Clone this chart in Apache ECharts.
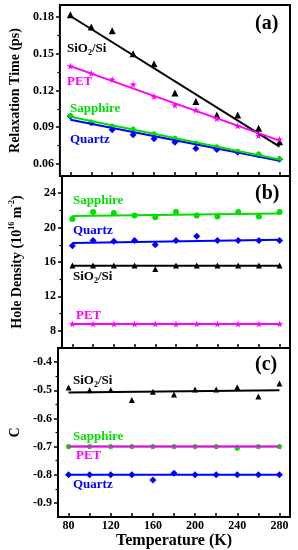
<!DOCTYPE html>
<html><head><meta charset="utf-8">
<script src="https://cdn.jsdelivr.net/npm/echarts@6/dist/echarts.min.js"></script>
<style>html,body{margin:0;padding:0;background:#fff}#c{width:298px;height:550px}</style>
</head><body><div id="c"></div>
<script>
const temps = [80, 100, 120, 140, 160, 180, 200, 220, 240, 260, 280];
const xTickValues = [80, 100, 120, 140, 160, 180, 200, 220, 240, 260, 280];
const xTickLabels = [80, 120, 160, 200, 240, 280];
const fitX = [80, 280];

// (a) relaxation time (ps)
const tauSiO2 = [0.182, 0.172, 0.169, 0.150, 0.142, 0.118, 0.111, 0.100, 0.100, 0.089, 0.078];
const tauPET = [0.140, 0.134, 0.129, 0.125, 0.115, 0.108, 0.104, 0.097, 0.091, 0.083, 0.080];
const tauSapphire = [0.0995, 0.094, 0.091, 0.0885, 0.0845, 0.081, 0.077, 0.074, 0.070, 0.068, 0.064];
const tauQuartz = [0.099, 0.0935, 0.0878, 0.0837, 0.0804, 0.0777, 0.0725, 0.0717, 0.0695, 0.0673, 0.0638];
const tauFitSiO2 = [0.181, 0.074];
const tauFitPET = [0.140, 0.079];
const tauFitSapphire = [0.0985, 0.0635];
const tauFitQuartz = [0.096, 0.0625];
const tauTicks = [0.06, 0.09, 0.12, 0.15, 0.18];
const tauMinor = [0.075, 0.105, 0.135, 0.165];

// (b) hole density (1e16 m^-2)
const nSapphire = [21.0, 21.8, 21.7, 21.4, 21.2, 21.8, 21.4, 21.3, 21.8, 21.3, 21.8];
const nQuartz = [17.9, 18.5, 18.4, 18.5, 18.0, 18.5, 19.0, 18.5, 18.5, 18.5, 18.5];
const nSiO2 = [15.6, 15.6, 15.6, 15.6, 15.2, 15.6, 15.6, 15.6, 15.6, 15.6, 15.6];
const nPET = [8.8, 8.8, 8.8, 8.8, 8.8, 8.8, 8.8, 8.8, 8.8, 8.8, 8.8];
const nFitSapphire = [21.35, 21.65];
const nFitQuartz = [18.2, 18.6];
const nFitSiO2 = [15.55, 15.55];
const nFitPET = [8.8, 8.8];
const nTicks = [8, 12, 16, 20, 24];
const nMinor = [10, 14, 18, 22];

// (c) C
const cSiO2 = [-0.490, -0.500, -0.499, -0.535, -0.505, -0.515, -0.497, -0.497, -0.489, -0.522, -0.476];
const cSapphire = [-0.7, -0.7, -0.7, -0.7, -0.7, -0.7, -0.7, -0.7, -0.706, -0.7, -0.7];
const cPET = [-0.7, -0.7, -0.7, -0.7, -0.7, -0.7, -0.7, -0.7, -0.7, -0.7, -0.7];
const cQuartz = [-0.8, -0.8, -0.8, -0.8, -0.819, -0.795, -0.8, -0.8, -0.8, -0.8, -0.8];
const cFitSiO2 = [-0.508, -0.500];
const cFitSapphire = [-0.7, -0.7];
const cFitPET = [-0.7, -0.7];
const cFitQuartz = [-0.8, -0.8];
const cTicks = [-0.9, -0.8, -0.7, -0.6, -0.5, -0.4];
const cMinor = [-0.85, -0.75, -0.65, -0.55, -0.45];

const BLACK = '#000000', MAG = '#ff00ff', GREEN = '#00e000', BLUE = '#0000ff';
const FONT = '"Liberation Serif","Times New Roman",serif';
const STAR = 'path://M0,-10L2.35,-3.24L9.51,-3.09L3.8,1.24L5.88,8.09L0,4L-5.88,8.09L-3.8,1.24L-9.51,-3.09L-2.35,-3.24Z';

const pts = (xs, ys) => xs.map((x, i) => [x, ys[i]]);

const grids = [
  {left: 57, right: 8, top: 5, height: 171},
  {left: 57, right: 8, top: 176, height: 172},
  {left: 57, right: 8, top: 348, height: 171}
].map(g => Object.assign(g, {show: true, borderColor: '#000', borderWidth: 2, backgroundColor: 'transparent'}));

const xAxes = [0, 1, 2].map(i => ({
  type: 'value', gridIndex: i, min: 70, max: 290,
  axisLine: {show: false},
  splitLine: {show: false},
  axisTick: {show: true, inside: true, length: 4, customValues: xTickValues, lineStyle: {color: '#000', width: 1.5}},
  axisLabel: {show: i === 2, customValues: xTickLabels, margin: 3,
    fontFamily: FONT, fontWeight: 'bold', fontSize: 12, color: '#000'},
  name: i === 2 ? 'Temperature (K)' : '',
  nameLocation: 'middle', nameGap: 16,
  nameTextStyle: {fontFamily: FONT, fontWeight: 'bold', fontSize: 16, color: '#000'}
}));

const yMain = (gi, min, max, ticks, fmt, name, nameRich) => ({
  type: 'value', gridIndex: gi, min: min, max: max,
  axisLine: {show: false},
  splitLine: {show: false},
  axisTick: {show: true, inside: false, length: 4, customValues: ticks, lineStyle: {color: '#000', width: 1.5}},
  axisLabel: {show: true, customValues: ticks, margin: 6, formatter: fmt,
    fontFamily: FONT, fontWeight: 'bold', fontSize: 12, color: '#000'},
  name: name, nameLocation: 'middle', nameGap: 36,
  nameTextStyle: Object.assign({fontFamily: FONT, fontWeight: 'bold', fontSize: 14, color: '#000'}, nameRich ? {rich: nameRich} : {})
});
const yMinor = (gi, min, max, ticks) => ({
  type: 'value', gridIndex: gi, min: min, max: max, position: 'left',
  axisLine: {show: false}, splitLine: {show: false},
  axisTick: {show: true, inside: false, length: 2.5, customValues: ticks, lineStyle: {color: '#000', width: 1.2}},
  axisLabel: {show: false}
});

const supRich = {
  t: {fontFamily: FONT, fontWeight: 'bold', fontSize: 14, color: '#000', lineHeight: 18},
  s: {fontFamily: FONT, fontWeight: 'bold', fontSize: 8, color: '#000', verticalAlign: 'top', lineHeight: 18}
};

const yAxes = [
  yMain(0, 0.05, 0.19, tauTicks, v => v.toFixed(2), 'Relaxation Time (ps)'),
  yMain(1, 6, 26, nTicks, v => String(Math.round(v)), '{t|Hole Density (10}{s|16}{t| m}{s|-2}{t|)}', supRich),
  yMain(2, -0.95, -0.35, cTicks, v => v.toFixed(1), 'C'),
  yMinor(0, 0.05, 0.19, tauMinor),
  yMinor(1, 6, 26, nMinor),
  yMinor(2, -0.95, -0.35, cMinor)
];

const fit = (gi, ys, color) => ({
  type: 'line', xAxisIndex: gi, yAxisIndex: gi, data: pts(fitX, ys),
  showSymbol: false, symbol: 'none', lineStyle: {color: color, width: 2}, silent: true, animation: false
});
const mk = (gi, ys, color, symbol, size) => ({
  type: 'scatter', xAxisIndex: gi, yAxisIndex: gi, data: pts(temps, ys),
  symbol: symbol, symbolSize: size, itemStyle: {color: color, opacity: 1}, animation: false
});

const series = [
  // (a)
  fit(0, tauFitSiO2, BLACK), mk(0, tauSiO2, BLACK, 'triangle', 7),
  fit(0, tauFitPET, MAG), mk(0, tauPET, MAG, STAR, 7),
  fit(0, tauFitQuartz, BLUE), mk(0, tauQuartz, BLUE, 'diamond', 7),
  fit(0, tauFitSapphire, GREEN), mk(0, tauSapphire, GREEN, 'circle', 5),
  // (b)
  fit(1, nFitSapphire, GREEN), mk(1, nSapphire, GREEN, 'circle', 6),
  fit(1, nFitQuartz, BLUE), mk(1, nQuartz, BLUE, 'diamond', 7),
  fit(1, nFitSiO2, BLACK), mk(1, nSiO2, BLACK, 'triangle', 6),
  fit(1, nFitPET, MAG), mk(1, nPET, MAG, STAR, 7),
  // (c)
  fit(2, cFitSiO2, BLACK), mk(2, cSiO2, BLACK, 'triangle', 6),
  fit(2, cFitQuartz, BLUE), mk(2, cQuartz, BLUE, 'diamond', 7),
  fit(2, cFitSapphire, GREEN), mk(2, cPET, MAG, STAR, 6),
  fit(2, cFitPET, MAG), mk(2, cSapphire, GREEN, 'circle', 5)
];

const subRich = {
  t: {fontFamily: FONT, fontWeight: 'bold', fontSize: 13, fill: '#000', lineHeight: 16},
  s: {fontFamily: FONT, fontWeight: 'bold', fontSize: 8, fill: '#000', verticalAlign: 'bottom', lineHeight: 16}
};
const lbl = (x, y, text, color, size) => ({
  type: 'text', left: x, top: y, z: 100,
  style: {text: text, fill: color, font: 'bold ' + (size || 13) + 'px ' + FONT}
});
const siLbl = (x, y) => ({
  type: 'text', left: x, top: y, z: 100,
  style: {text: '{t|SiO}{s|2}{t|/Si}', rich: subRich, fill: '#000'}
});

const graphic = [
  lbl(255, 14, '(a)', '#000', 20),
  lbl(255, 184, '(b)', '#000', 20),
  lbl(255, 355, '(c)', '#000', 20),
  siLbl(67, 42), lbl(67, 75, 'PET', MAG), lbl(70, 102, 'Sapphire', GREEN), lbl(70, 133, 'Quartz', BLUE),
  lbl(73, 194, 'Sapphire', GREEN), lbl(73, 224, 'Quartz', BLUE), siLbl(73, 270), lbl(76, 309, 'PET', MAG),
  siLbl(73, 374), lbl(73, 430, 'Sapphire', GREEN), lbl(76, 449, 'PET', MAG), lbl(73, 478, 'Quartz', BLUE)
];

const chart = echarts.init(document.getElementById('c'), null, {renderer: 'canvas'});
chart.setOption({
  animation: false,
  backgroundColor: '#fff',
  grid: grids, xAxis: xAxes, yAxis: yAxes, series: series, graphic: graphic
});
</script></body></html>
